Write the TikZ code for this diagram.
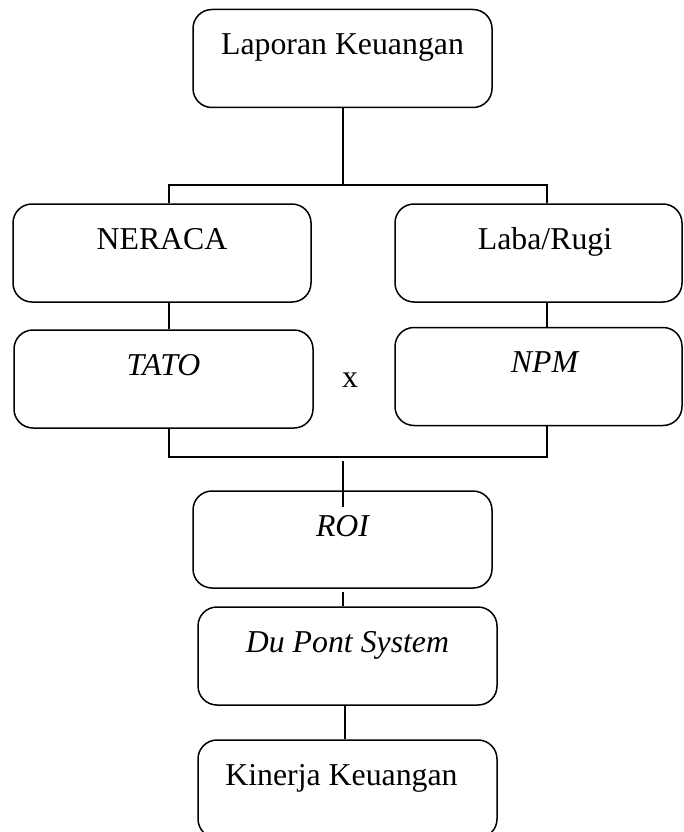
\documentclass[tikz,border=0pt]{standalone}
\usepackage{fontspec}
\setmainfont{Liberation Serif}
\begin{document}
\begin{tikzpicture}[x=1pt,y=-1pt,
  box/.style={draw,line width=1.5pt,rounded corners=19pt,inner sep=0pt,
    minimum width=299pt,minimum height=98pt,text height=45pt,text depth=53pt,
    font=\fontsize{31.8}{38}\selectfont},
  conn/.style={line width=1.5pt}]
\useasboundingbox (0,0) rectangle (683,832);
\clip (0,0) rectangle (683,832);
\node[box] (lap) at (342.5,58.5) {Laporan Keuangan};
\node[box,minimum width=298pt] (ner) at (162,253) {NERACA};
\node[box,minimum width=287pt] (lab) at (538.5,253) {\hspace*{13pt}Laba/Rugi};
\node[box] (tato) at (163.5,379) {\itshape TATO};
\node[box,minimum width=287pt] (npm) at (538.5,376.5) {\hspace*{12pt}\itshape NPM};
\node[box,minimum height=97pt,text depth=52pt] (roi) at (342.5,539.5) {\itshape ROI};
\node[box] (dps) at (347.5,656) {\itshape Du Pont System};
\node[box] (kin) at (347.5,789) {Kinerja Keuangan\hspace*{12pt}};
\node[anchor=base,inner sep=0pt,font=\fontsize{31.8}{38}\selectfont] (times) at (350,387) {x};
% brackets
\coordinate (bt) at (343,185);
\coordinate (btl) at (169,185);
\coordinate (btr) at (547,185);
\coordinate (bbl) at (169,457);
\coordinate (bbr) at (547,457);
\coordinate (bbm) at (343,461);
\coordinate (roiin) at (343,507);
\draw[conn] (lap.south -| bt) -- (bt);
\draw[conn] (ner.north -| btl) -- (btl) -- (btr) -- (lab.north -| btr);
\draw[conn] (ner.south -| btl) -- (tato.north -| btl);
\draw[conn] (lab.south -| btr) -- (npm.north -| btr);
\draw[conn] (tato.south -| bbl) -- (bbl) -- (bbr) -- (npm.south -| bbr);
\draw[conn] (bbm) -- (roiin);
\draw[conn] ([yshift=-3pt]roi.south -| bt) -- (dps.north -| bt);
\draw[conn] (dps.south -| 345,0) -- (kin.north -| 345,0);
\end{tikzpicture}
\end{document}
